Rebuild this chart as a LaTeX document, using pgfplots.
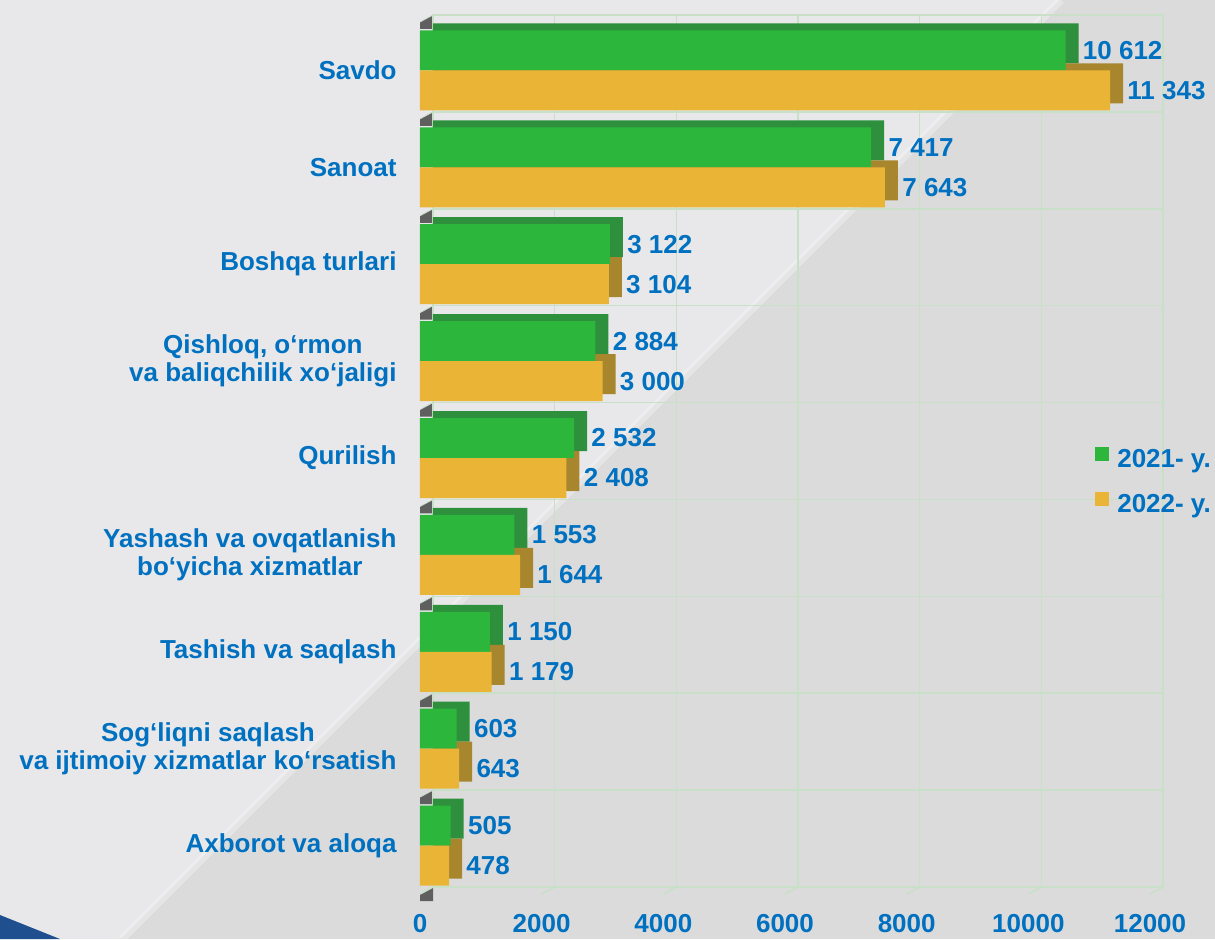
\documentclass[border=0pt]{standalone}
\usepackage{fontspec}
\setmainfont{Liberation Sans}
\usepackage{pgfplots}
\usepackage{pgfplotstable}
\pgfplotsset{compat=1.18}

\definecolor{txtblue}{HTML}{0070C0}
\definecolor{grnF}{HTML}{2DB63C}
\definecolor{grnB}{HTML}{2E8F3C}
\definecolor{ylwF}{HTML}{EAB536}
\definecolor{ylwB}{HTML}{A8862E}
\definecolor{gridg}{HTML}{C8E0C8}
\definecolor{bgL}{HTML}{E8E8EA}
\definecolor{bgR}{HTML}{DBDBDB}
\definecolor{wall}{HTML}{5F5F5F}
\definecolor{corner}{HTML}{1F4F8F}

\newcommand{\lbl}{\fontsize{13}{14}\selectfont\bfseries}

% pos: 8 = top category
\pgfplotstableread{
pos  y2021  y2022
8    10612  11343
7    7417   7643
6    3122   3104
5    2884   3000
4    2532   2408
3    1553   1644
2    1150   1179
1    603    643
0    505    478
}\data

\begin{document}
\begin{tikzpicture}
\useasboundingbox (0,0) rectangle (607.5pt,469.5pt);
% background
\fill[bgR] (0,0) rectangle (607.5pt,469.5pt);
\fill[bgL] (0,0) -- (60pt,0) -- (529.5pt,469.5pt) -- (0,469.5pt) -- cycle;
\draw[white, opacity=0.3, line width=4pt] (61pt,0) -- (530.5pt,469.5pt);
\fill[corner] (0,0) -- (0,12pt) -- (30pt,0) -- cycle;

% side wall pieces at the category borders
\foreach \k in {0,...,9}{
  \pgfmathsetmacro\yb{(939-15-96.89*\k)/2}
  \fill[wall] (210pt,{\yb pt-3.5pt}) -- (216.5pt,\yb pt) -- (216.5pt,{\yb pt-7pt}) -- (210pt,{\yb pt-7pt}) -- cycle;
  \draw[gridg] (210pt,{\yb pt-3.5pt}) -- (216.5pt,\yb pt);
}
% floor edges under the vertical grid lines
\foreach \i in {0,...,6}{
  \pgfmathsetmacro\gx{216.5+60.833*\i}
  \draw[gridg, line width=0.8pt] ({\gx pt-6.5pt},22.5pt) -- (\gx pt,26pt);
}

\begin{axis}[
  at={(216.5pt,26pt)}, anchor=south west,
  scale only axis, width=365pt, height=436pt,
  clip=false,
  xbar, bar width=20pt,
  xmin=0, xmax=12000, ymin=-0.5, ymax=8.5,
  xtick={0,2000,...,12000},
  xticklabels={0,2000,4000,6000,8000,10000,12000},
  ytick={0,...,8},
  yticklabels={
    {Axborot va aloqa},
    {Sog‘liqni saqlash\\va ijtimoiy xizmatlar ko‘rsatish},
    {Tashish va saqlash},
    {Yashash va ovqatlanish\\bo‘yicha xizmatlar},
    {Qurilish},
    {Qishloq, o‘rmon\\va baliqchilik xo‘jaligi},
    {Boshqa turlari},
    {Sanoat},
    {Savdo}},
  minor ytick={-0.5,0.5,...,8.5},
  xmajorgrids, yminorgrids,
  grid style={gridg, line width=0.8pt},
  axis line style={gridg, line width=0.8pt},
  major tick length=0pt, minor tick length=0pt,
  tick style={draw=none},
  xticklabel style={font=\lbl, text=txtblue, xshift=-6.5pt, yshift=-10.2pt},
  yticklabel style={font=\lbl, text=txtblue, align=center, xshift=-14.7pt, yshift=-3.5pt},
  legend image code/.code={\fill[#1] (0pt,-0.3pt) rectangle (7pt,6.7pt);},
  legend style={at={(0.8985,0.510)}, anchor=north west, draw=none, fill=none,
    font=\lbl, text=txtblue, row sep=9.5pt, nodes={inner sep=1pt},
    /tikz/every odd column/.style={column sep=3pt}},
  legend cell align=left,
  value/.style={nodes near coords, point meta=x,
    every node near coord/.append style={font=\lbl, text=txtblue, anchor=west,
      inner sep=1pt, xshift=1pt, yshift=-3.5pt},
    nodes near coords={\pgfmathprintnumber[assume math mode=true, fixed, precision=0, 1000 sep={\ }]{\pgfplotspointmeta}}},
]
% back faces (depth), with the value labels
\addplot[forget plot, draw=none, fill=grnB, bar shift=10pt, value] table[x=y2021, y=pos] {\data};
\addplot[forget plot, draw=none, fill=ylwB, bar shift=-10pt, value] table[x=y2022, y=pos] {\data};
% front faces
\addplot[forget plot, draw=none, fill=grnF, bar shift=6.5pt, xshift=-6.5pt] table[x=y2021, y=pos] {\data};
\addplot[forget plot, draw=none, fill=ylwF, bar shift=-13.5pt, xshift=-6.5pt] table[x=y2022, y=pos] {\data};

\addlegendimage{fill=grnF, draw=none}
\addlegendentry{2021- y.}
\addlegendimage{fill=ylwF, draw=none}
\addlegendentry{2022- y.}
\end{axis}
\end{tikzpicture}
\end{document}
